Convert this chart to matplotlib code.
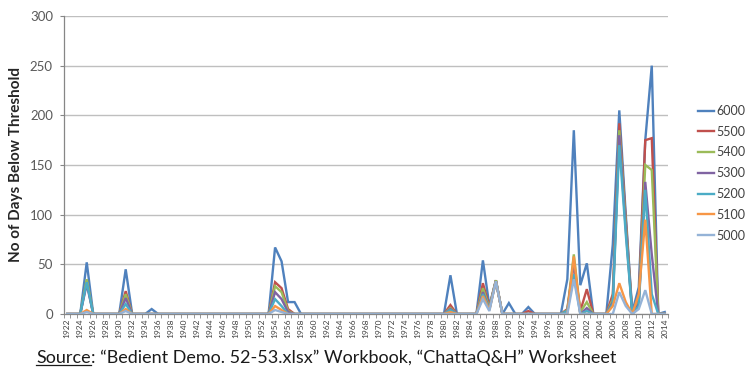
import matplotlib
matplotlib.use('Agg')
import matplotlib.pyplot as plt
import numpy as np

plt.rcParams['font.family'] = ['Lato', 'DejaVu Sans']

years = list(range(1922, 2015))
labels = ['6000', '5500', '5400', '5300', '5200', '5100', '5000']
colors = ['#4F81BD', '#C0504D', '#9BBB59', '#8064A2', '#4BACC6', '#F79646', '#95B3D7']

# days below threshold, 1922..2014 (rows: 1922-29, then one decade per row)
s6000 = [0, 0, 0, 52, 0, 0, 0, 0,
         0, 45, 0, 0, 0, 5, 0, 0, 0, 0,
         0, 0, 0, 0, 0, 0, 0, 0, 0, 0,
         0, 0, 0, 0, 67, 53, 12, 12, 0, 0,
         0, 0, 0, 0, 0, 0, 0, 0, 0, 0,
         0, 0, 0, 0, 0, 0, 0, 0, 0, 0,
         0, 39, 0, 0, 0, 0, 54, 8, 34, 0,
         11, 0, 0, 7, 0, 0, 0, 0, 0, 35,
         185, 29, 51, 0, 0, 0, 70, 205, 100, 2,
         27, 175, 250, 0, 2]
s5500 = [0, 0, 0, 33, 0, 0, 0, 0,
         0, 23, 0, 0, 0, 0, 0, 0, 0, 0,
         0, 0, 0, 0, 0, 0, 0, 0, 0, 0,
         0, 0, 0, 0, 32, 26, 5, 0, 0, 0,
         0, 0, 0, 0, 0, 0, 0, 0, 0, 0,
         0, 0, 0, 0, 0, 0, 0, 0, 0, 0,
         0, 9, 0, 0, 0, 0, 31, 7, 34, 0,
         0, 0, 0, 3, 0, 0, 0, 0, 0, 5,
         52, 3, 25, 0, 0, 0, 20, 192, 95, 0,
         15, 175, 177, 0, 0]
s5400 = [0, 0, 0, 35, 0, 0, 0, 0,
         0, 20, 0, 0, 0, 0, 0, 0, 0, 0,
         0, 0, 0, 0, 0, 0, 0, 0, 0, 0,
         0, 0, 0, 0, 28, 22, 3, 0, 0, 0,
         0, 0, 0, 0, 0, 0, 0, 0, 0, 0,
         0, 0, 0, 0, 0, 0, 0, 0, 0, 0,
         0, 6, 0, 0, 0, 0, 26, 6, 34, 0,
         0, 0, 0, 0, 0, 0, 0, 0, 0, 4,
         60, 2, 12, 0, 0, 0, 15, 185, 90, 0,
         12, 150, 145, 0, 0]
s5300 = [0, 0, 0, 30, 0, 0, 0, 0,
         0, 16, 0, 0, 0, 0, 0, 0, 0, 0,
         0, 0, 0, 0, 0, 0, 0, 0, 0, 0,
         0, 0, 0, 0, 22, 15, 2, 0, 0, 0,
         0, 0, 0, 0, 0, 0, 0, 0, 0, 0,
         0, 0, 0, 0, 0, 0, 0, 0, 0, 0,
         0, 5, 0, 0, 0, 0, 22, 5, 33, 0,
         0, 0, 0, 0, 0, 0, 0, 0, 0, 3,
         52, 0, 6, 0, 0, 0, 12, 180, 85, 0,
         10, 133, 60, 0, 0]
s5200 = [0, 0, 0, 32, 0, 0, 0, 0,
         0, 10, 0, 0, 0, 0, 0, 0, 0, 0,
         0, 0, 0, 0, 0, 0, 0, 0, 0, 0,
         0, 0, 0, 0, 15, 8, 0, 0, 0, 0,
         0, 0, 0, 0, 0, 0, 0, 0, 0, 0,
         0, 0, 0, 0, 0, 0, 0, 0, 0, 0,
         0, 4, 0, 0, 0, 0, 20, 5, 33, 0,
         0, 0, 0, 0, 0, 0, 0, 0, 0, 3,
         40, 0, 3, 0, 0, 0, 10, 170, 80, 0,
         8, 125, 20, 0, 0]
s5100 = [0, 0, 0, 4, 0, 0, 0, 0,
         0, 5, 0, 0, 0, 0, 0, 0, 0, 0,
         0, 0, 0, 0, 0, 0, 0, 0, 0, 0,
         0, 0, 0, 0, 8, 4, 0, 0, 0, 0,
         0, 0, 0, 0, 0, 0, 0, 0, 0, 0,
         0, 0, 0, 0, 0, 0, 0, 0, 0, 0,
         0, 2, 0, 0, 0, 0, 18, 4, 33, 0,
         0, 0, 0, 0, 0, 0, 0, 0, 0, 0,
         58, 0, 0, 0, 0, 0, 8, 31, 12, 0,
         20, 95, 0, 0, 0]
s5000 = [0, 0, 0, 2, 0, 0, 0, 0,
         0, 3, 0, 0, 0, 0, 0, 0, 0, 0,
         0, 0, 0, 0, 0, 0, 0, 0, 0, 0,
         0, 0, 0, 0, 4, 2, 0, 0, 0, 0,
         0, 0, 0, 0, 0, 0, 0, 0, 0, 0,
         0, 0, 0, 0, 0, 0, 0, 0, 0, 0,
         0, 0, 0, 0, 0, 0, 15, 3, 33, 0,
         0, 0, 0, 0, 0, 0, 0, 0, 0, 0,
         35, 0, 0, 0, 0, 0, 0, 22, 8, 0,
         5, 24, 0, 0, 0]

series = [s6000, s5500, s5400, s5300, s5200, s5100, s5000]

fig = plt.figure(figsize=(7.46, 3.70), dpi=100)
ax = fig.add_axes([64 / 746, 1 - 314 / 370, 604 / 746, 298 / 370])

x = np.arange(len(years))
for vals, lab, col in zip(series, labels, colors):
    ax.plot(x, vals, color=col, lw=1.7, label=lab, solid_joinstyle='miter')

ax.set_xlim(-0.5, len(years) - 0.5)
ax.set_ylim(0, 300)
ax.set_yticks(range(0, 301, 50))
ax.tick_params(axis='y', labelsize=9.5, colors='#595959', length=3, width=0.8, pad=5)
ax.yaxis.grid(True, color='#BFBFBF', lw=1)
ax.set_axisbelow(True)

even = [i for i, y in enumerate(years) if y % 2 == 0]
ax.set_xticks(even)
ax.set_xticklabels([str(years[i]) for i in even], rotation=90, fontsize=6, color='#404040')
ax.tick_params(axis='x', length=0, pad=3)
ax.set_xticks(np.arange(-0.5, len(years), 1), minor=True)
ax.tick_params(axis='x', which='minor', length=3, width=0.6, color='#868686')

for side in ['top', 'right']:
    ax.spines[side].set_visible(False)
for side in ['left', 'bottom']:
    ax.spines[side].set_color('#868686')
    ax.spines[side].set_linewidth(0.9)
ax.tick_params(axis='y', color='#868686')

ax.set_ylabel('No of Days Below Threshold', fontsize=11, fontweight='bold', color='#262626', labelpad=5)

fig.legend(loc='upper left', bbox_to_anchor=(693 / 746, 1 - 100 / 370), frameon=False,
           fontsize=9, handlelength=1.3, handletextpad=0.15, labelspacing=0.7,
           labelcolor='#404040', borderaxespad=0)

# source line, "Source" underlined
t1 = fig.text(36 / 746, 1 - 358 / 370, 'Source', fontsize=13, va='center', ha='left', color='#1a1a1a')
fig.canvas.draw()
bb = t1.get_window_extent(fig.canvas.get_renderer())
fig.text(bb.x1 / 746, 1 - 358 / 370,
         ': \u201cBedient Demo. 52-53.xlsx\u201d Workbook, \u201cChattaQ&H\u201d Worksheet',
         fontsize=13, va='center', ha='left', color='#1a1a1a')
fig.add_artist(plt.Line2D([bb.x0 / 746, bb.x1 / 746], [(bb.y0 + 1) / 370] * 2,
                          color='#1a1a1a', lw=0.9, transform=fig.transFigure))

fig.savefig('out.png', dpi=100)
